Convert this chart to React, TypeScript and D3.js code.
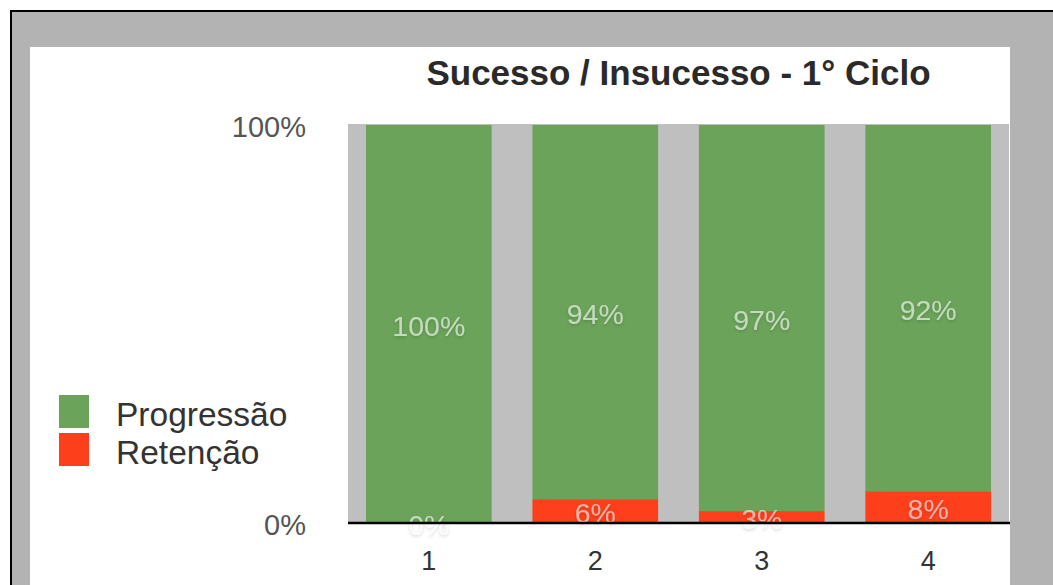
import React from "react";
import * as d3 from "d3";

const categories = ["1", "2", "3", "4"];
const progressao = [100, 94, 97, 92];
const retencao = [0, 6, 3, 8];
const yTickLabels = [
  { v: 100, label: "100%" },
  { v: 0, label: "0%" },
];
const seriesNames = ["Progressão", "Retenção"];
const title = "Sucesso / Insucesso - 1° Ciclo";

const GREEN = "#6ba35a";
const RED = "#fd3f1c";
const FONT = "'Liberation Sans', Arial, Helvetica, sans-serif";

export default function App() {
  const W = 1053;
  const H = 585;
  const plot = { x0: 348, x1: 1009, y0: 124, y1: 523 };

  const x = d3
    .scaleBand<string>()
    .domain(categories)
    .range([plot.x0, plot.x1])
    .paddingInner(0.245)
    .paddingOuter(0.108);
  const y = d3.scaleLinear().domain([0, 100]).range([523, 125]);

  const rows = categories.map((c, i) => ({ cat: c, ret: retencao[i], prog: progressao[i] }));
  const stack = d3.stack<any>().keys(["ret", "prog"])(rows);
  const colors: Record<string, string> = { ret: RED, prog: GREEN };

  return (
    <svg
      width={W}
      height={H}
      style={{ position: "absolute", left: 0, top: 0, display: "block" }}
      fontFamily={FONT}
    >
      <defs>
        <filter id="lblShadow" x="-30%" y="-50%" width="160%" height="200%">
          <feDropShadow dx="0" dy="1.5" stdDeviation="1.6" floodColor="#000" floodOpacity="0.28" />
        </filter>
      </defs>
      <rect x={0} y={0} width={W} height={H} fill="#ffffff" />
      <rect x={11} y={11} width={W + 20} height={H + 20} fill="#b3b3b3" stroke="#000" strokeWidth={2} />
      <rect x={30} y={47} width={980} height={H} fill="#ffffff" />

      {/* title */}
      <text
        x={(plot.x0 + plot.x1) / 2}
        y={85}
        textAnchor="middle"
        fontSize={35}
        fontWeight="bold"
        fill="#2a2a2a"
      >
        {title}
      </text>

      {/* plot background */}
      <rect x={plot.x0} y={plot.y0} width={plot.x1 - plot.x0} height={plot.y1 - plot.y0} fill="#bfbfbf" />

      {/* bars */}
      {stack.map((layer) => (
        <g key={layer.key} fill={colors[layer.key]}>
          {layer.map((d: any, i: number) => (
            <rect
              key={i}
              x={x(d.data.cat)}
              y={y(d[1])}
              width={x.bandwidth()}
              height={y(d[0]) - y(d[1])}
            />
          ))}
        </g>
      ))}

      {/* value labels */}
      {stack.map((layer) => (
        <g key={"l" + layer.key}>
          {layer.map((d: any, i: number) => (
            <text
              key={i}
              x={(x(d.data.cat) as number) + x.bandwidth() / 2}
              y={(y(d[0]) + y(d[1])) / 2 + 2}
              dy="0.36em"
              textAnchor="middle"
              fontSize={28.5}
              fill="rgba(255,255,255,0.6)"
              filter="url(#lblShadow)"
            >
              {`${d[1] - d[0]}%`}
            </text>
          ))}
        </g>
      ))}

      {/* x axis */}
      <line x1={plot.x0} x2={plot.x1 + 1} y1={523} y2={523} stroke="#000" strokeWidth={2.5} />
      {categories.map((c) => (
        <text
          key={c}
          x={(x(c) as number) + x.bandwidth() / 2}
          y={560}
          dy="0.36em"
          textAnchor="middle"
          fontSize={27}
          fill="#333"
        >
          {c}
        </text>
      ))}

      {/* y labels */}
      {yTickLabels.map((t) => (
        <text
          key={t.label}
          x={306}
          y={y(t.v) + 2}
          dy="0.36em"
          textAnchor="end"
          fontSize={29}
          fill="#555"
        >
          {t.label}
        </text>
      ))}

      {/* legend */}
      {seriesNames.map((s, i) => (
        <g key={s} transform={`translate(59, ${395 + i * 38})`}>
          <rect x={0} y={0} width={30} height={33} fill={i === 0 ? GREEN : RED} />
          <text x={57} y={31} fontSize={33.5} fill="#333">
            {s}
          </text>
        </g>
      ))}
    </svg>
  );
}
